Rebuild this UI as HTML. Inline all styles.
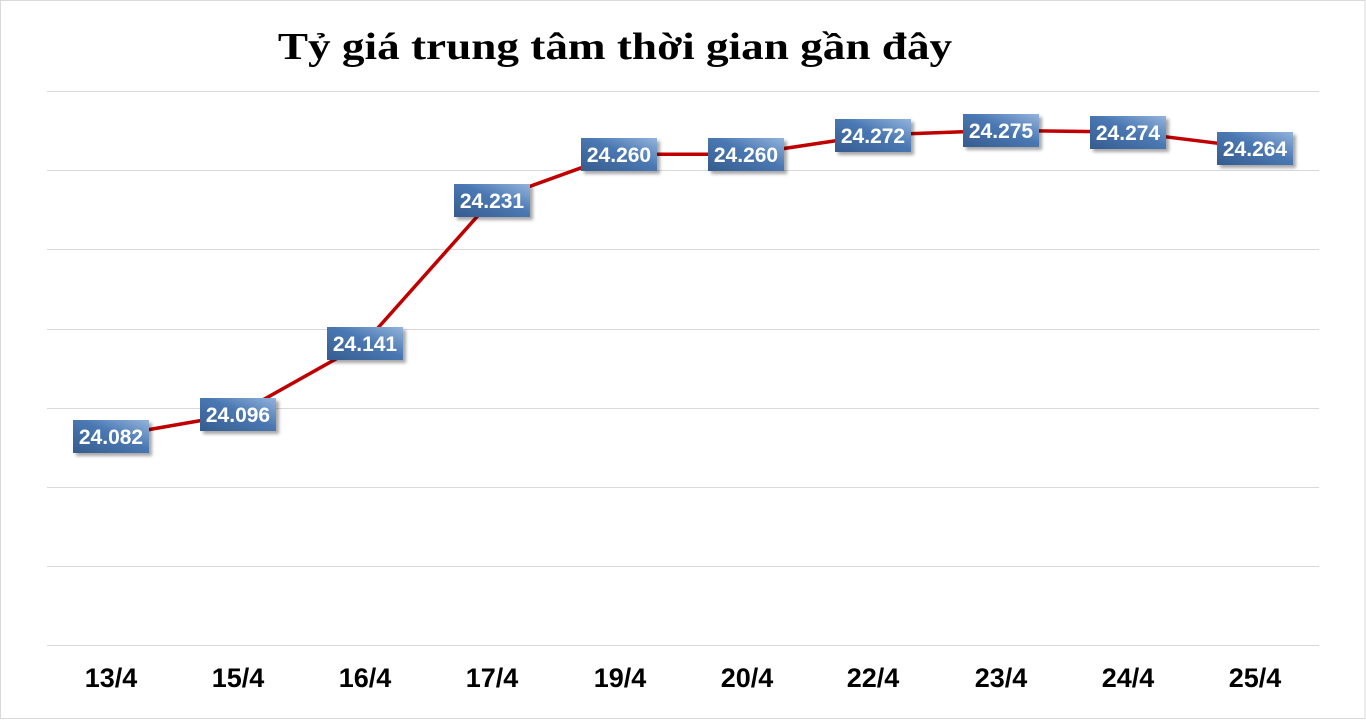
<!DOCTYPE html>
<html><head><meta charset="utf-8"><style>
html,body{margin:0;padding:0;background:#fff;}
svg{display:block;}
</style></head><body>
<svg width="1366" height="720" viewBox="0 0 1366 720" xmlns="http://www.w3.org/2000/svg">
<defs>
<linearGradient id="bg" x1="0" y1="1" x2="1" y2="0">
<stop offset="0" stop-color="#355c8e"/>
<stop offset="0.55" stop-color="#4a78b3"/>
<stop offset="1" stop-color="#93b4dc"/>
</linearGradient>
<filter id="sh" x="-20%" y="-20%" width="150%" height="160%">
<feGaussianBlur in="SourceAlpha" stdDeviation="1.5"/>
<feOffset dx="3" dy="3" result="b"/>
<feComponentTransfer><feFuncA type="linear" slope="0.35"/></feComponentTransfer>
<feMerge><feMergeNode/><feMergeNode in="SourceGraphic"/></feMerge>
</filter>
</defs>
<rect x="0.5" y="0.5" width="1364.5" height="718" fill="#fff" stroke="#d9d9d9" stroke-width="1"/>
<text transform="translate(615,59) scale(1.19,1)" x="0" y="0" text-anchor="middle" font-family="'Liberation Serif', serif" font-weight="bold" font-size="38" fill="#000">Tỷ giá trung tâm thời gian gần đây</text>
<g stroke="#d9d9d9" stroke-width="1">
<line x1="47" y1="91.5" x2="1319" y2="91.5"/>
<line x1="47" y1="170.5" x2="1319" y2="170.5"/>
<line x1="47" y1="249.5" x2="1319" y2="249.5"/>
<line x1="47" y1="329.5" x2="1319" y2="329.5"/>
<line x1="47" y1="408.5" x2="1319" y2="408.5"/>
<line x1="47" y1="487.5" x2="1319" y2="487.5"/>
<line x1="47" y1="566.5" x2="1319" y2="566.5"/>
<line x1="47" y1="645.5" x2="1319" y2="645.5"/>
</g>
<polyline points="110.5,436.3 237.6,414.1 364.7,342.8 491.8,200.1 618.9,154.2 746.0,154.2 873.1,135.1 1000.2,130.4 1127.3,132.0 1254.4,147.8" fill="none" stroke="#c00000" stroke-width="3.5" stroke-linecap="round" stroke-linejoin="round"/>
<g font-family="'Liberation Sans', Arial, sans-serif" font-weight="bold" font-size="21" fill="#fff" text-anchor="middle">
<g filter="url(#sh)">
<rect x="73" y="420" width="76" height="33" fill="url(#bg)"/>
<rect x="200" y="398" width="76" height="33" fill="url(#bg)"/>
<rect x="327" y="327" width="76" height="33" fill="url(#bg)"/>
<rect x="454" y="184" width="76" height="33" fill="url(#bg)"/>
<rect x="581" y="138" width="76" height="33" fill="url(#bg)"/>
<rect x="708" y="138" width="76" height="33" fill="url(#bg)"/>
<rect x="835" y="119" width="76" height="33" fill="url(#bg)"/>
<rect x="963" y="114" width="76" height="33" fill="url(#bg)"/>
<rect x="1090" y="116" width="76" height="33" fill="url(#bg)"/>
<rect x="1217" y="132" width="76" height="33" fill="url(#bg)"/>
</g>
<text x="111" y="444">24.082</text>
<text x="238" y="422">24.096</text>
<text x="365" y="351">24.141</text>
<text x="492" y="208">24.231</text>
<text x="619" y="162">24.260</text>
<text x="746" y="162">24.260</text>
<text x="873" y="143">24.272</text>
<text x="1001" y="138">24.275</text>
<text x="1128" y="140">24.274</text>
<text x="1255" y="156">24.264</text>
</g>
<g font-family="'Liberation Sans', Arial, sans-serif" font-weight="bold" font-size="27" fill="#000" text-anchor="middle">
<text x="111" y="687">13/4</text>
<text x="238" y="687">15/4</text>
<text x="365" y="687">16/4</text>
<text x="492" y="687">17/4</text>
<text x="620" y="687">19/4</text>
<text x="747" y="687">20/4</text>
<text x="873" y="687">22/4</text>
<text x="1001" y="687">23/4</text>
<text x="1128" y="687">24/4</text>
<text x="1255" y="687">25/4</text>
</g>
</svg>
</body></html>
